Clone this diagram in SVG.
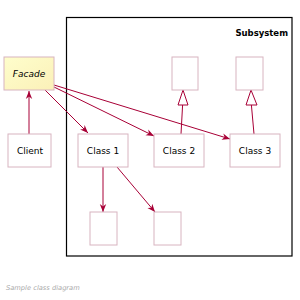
<svg xmlns="http://www.w3.org/2000/svg" width="300" height="300" viewBox="0 0 300 300">
<style>
.box{fill:#ffffff;stroke:#d8b4c0;stroke-width:1}
.lbl{font-family:"DejaVu Sans",sans-serif;font-size:9px;fill:#000;text-anchor:middle}
.ln{stroke:#a80036;stroke-width:1;fill:none}
</style>
<defs>
<linearGradient id="fg" x1="0" y1="0" x2="1" y2="1">
<stop offset="0" stop-color="#fefecc"/>
<stop offset="1" stop-color="#fbf0b8"/>
</linearGradient>
<marker id="ar" viewBox="0 0 10 10" refX="10" refY="5" markerWidth="8" markerHeight="8" markerUnits="userSpaceOnUse" orient="auto">
<path d="M0,1 L10,5 L0,9 L3,5 Z" fill="#a80036"/>
</marker>
</defs>
<rect x="66.5" y="17.5" width="225.5" height="238.5" fill="#fff" stroke="#000" stroke-width="1.2"/>
<text x="288" y="36" font-family="DejaVu Sans,sans-serif" font-size="8.5" font-weight="bold" text-anchor="end">Subsystem</text>
<g id="connectors">
<line class="ln" x1="29" y1="134" x2="29" y2="91" marker-end="url(#ar)"/>
<line class="ln" x1="45" y1="90" x2="88" y2="133" marker-end="url(#ar)"/>
<line class="ln" x1="54" y1="87" x2="154" y2="136" marker-end="url(#ar)"/>
<line class="ln" x1="54" y1="85" x2="230" y2="139" marker-end="url(#ar)"/>
<line class="ln" x1="103" y1="167" x2="103" y2="212" marker-end="url(#ar)"/>
<line class="ln" x1="117" y1="167" x2="155" y2="212" marker-end="url(#ar)"/>
<line class="ln" x1="181" y1="134" x2="182.6" y2="105"/>
<path class="ln" d="M183,90 L188,105 L178,105 Z" fill="#fff"/>
<line class="ln" x1="254" y1="134" x2="251.4" y2="105"/>
<path class="ln" d="M251,90 L257,105 L246,105 Z" fill="#fff"/>
</g>
<g id="facade"><rect x="4" y="57" width="50" height="33" fill="url(#fg)" stroke="#d8b4c0"/><text class="lbl" x="29" y="77" font-style="italic">Facade</text></g>
<g id="client"><rect class="box" x="8" y="134" width="43" height="33"/><text class="lbl" x="30" y="154">Client</text></g>
<g id="class1"><rect class="box" x="78" y="134" width="50" height="33"/><text class="lbl" x="103" y="154">Class 1</text></g>
<g id="class2"><rect class="box" x="154" y="134" width="50" height="33"/><text class="lbl" x="179" y="154">Class 2</text></g>
<g id="class3"><rect class="box" x="230" y="134" width="50" height="33"/><text class="lbl" x="255" y="154">Class 3</text></g>
<g id="sup2"><rect class="box" x="172" y="57" width="26" height="33"/></g>
<g id="sup3"><rect class="box" x="236" y="57" width="27" height="33"/></g>
<g id="sub1"><rect class="box" x="90" y="212" width="27" height="33"/></g>
<g id="sub2"><rect class="box" x="154" y="212" width="27" height="33"/></g>
<text x="6" y="290" font-family="DejaVu Sans,sans-serif" font-size="6.7" font-style="italic" fill="#aaaaaa">Sample class diagram</text>
</svg>
